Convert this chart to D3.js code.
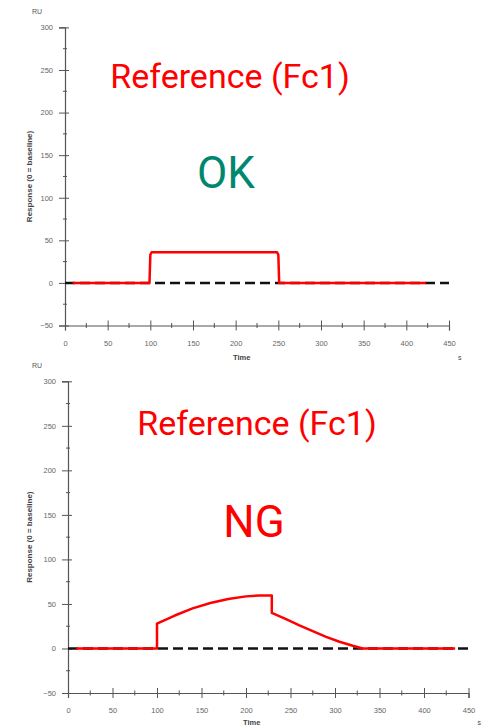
<!DOCTYPE html>
<html>
<head>
<meta charset="utf-8">
<script src="https://cdn.jsdelivr.net/npm/d3@7"></script>
<style>
  body { margin: 0; background: #fff; }
  svg { display: block; }
</style>
</head>
<body>
<svg id="chart" width="487" height="728"></svg>
<script>
// sensorgram data (time in s, response in RU)
let okTime = [9, 99, 100, 101.5, 248.5, 250, 251, 423];
let okResp = [0, 0, 33, 36, 36, 33, 0, 0];

let ngTime = [9, 100, 100, 120, 140, 160, 180, 200, 215, 229, 229, 245, 260, 275, 290, 305, 320, 331, 435];
let ngResp = [0, 0, 28, 37, 45, 51, 55.5, 58.5, 59.5, 59.5, 40, 33, 26, 19.5, 13, 7.5, 3, 0, 0];

let baseTime = [0, 450];
let baseResp = [0, 0];

let yTicks = [-50, 0, 50, 100, 150, 200, 250, 300];
let xTicks = [0, 50, 100, 150, 200, 250, 300, 350, 400, 450];

let svg = d3.select("#chart");

let drawPanel = (cfg) => {
    let x = d3.scaleLinear().domain([0, 450]).range([cfg.x0, cfg.x1]);
    let y = d3.scaleLinear().domain([-50, 300]).range([cfg.yBottom, cfg.yTop]);
    let g = svg.append("g");
    let axisColor = "#555";
    let small = "Liberation Sans, Arial, sans-serif";

    // y axis
    let ya = g.append("g")
        .attr("transform", "translate(" + cfg.x0 + ",0)")
        .call(d3.axisLeft(y).tickValues(yTicks).tickSize(6).tickPadding(6));
    ya.select(".domain").attr("stroke", axisColor).attr("stroke-width", 1.2);
    ya.selectAll(".tick line").attr("stroke", axisColor).attr("x2", -6).attr("x1", 4);
    ya.selectAll(".tick text").attr("fill", "#666").attr("font-size", 7.5)
        .attr("font-family", small);
    ya.selectAll(".minor").data(d3.range(-25, 300, 50)).enter().append("line")
        .attr("stroke", axisColor)
        .attr("x1", -2).attr("x2", 2)
        .attr("y1", d => y(d)).attr("y2", d => y(d));

    // x axis at -50
    let xa = g.append("g")
        .attr("transform", "translate(0," + y(-50) + ")")
        .call(d3.axisBottom(x).tickValues(xTicks).tickSize(5).tickPadding(10));
    xa.select(".domain").attr("stroke", axisColor).attr("stroke-width", 1.2);
    xa.selectAll(".tick line").attr("stroke", axisColor).attr("y1", -5).attr("y2", 5);
    xa.selectAll(".tick text").attr("fill", "#666").attr("font-size", 7.5)
        .attr("font-family", small);
    xa.selectAll(".minor").data(d3.range(25, 450, 50)).enter().append("line")
        .attr("stroke", axisColor)
        .attr("x1", d => x(d)).attr("x2", d => x(d))
        .attr("y1", -2.5).attr("y2", 2.5);

    // axis labels
    g.append("text").attr("x", 37).attr("y", cfg.yTop - 13)
        .attr("text-anchor", "middle").attr("font-size", 7).attr("fill", "#555")
        .attr("font-family", small).text("RU");
    g.append("text").attr("x", cfg.timeX).attr("y", y(-50) + cfg.labelGap)
        .attr("font-size", 7.5).attr("font-weight", "bold").attr("fill", "#444")
        .attr("font-family", small).text("Time");
    g.append("text").attr("x", cfg.x1 + 9).attr("y", y(-50) + cfg.labelGap)
        .attr("font-size", 7).attr("fill", "#444")
        .attr("font-family", small).text("s");
    g.append("text")
        .attr("transform", "translate(32," + y(125) + ") rotate(-90)")
        .attr("text-anchor", "middle").attr("font-size", 8).attr("font-weight", "bold")
        .attr("fill", "#444").attr("font-family", small).text("Response (0 = baseline)");

    // baseline dashed
    let line = d3.line().x(d => x(d[0])).y(d => y(d[1]));
    g.append("path")
        .datum(d3.zip(baseTime, baseResp))
        .attr("fill", "none").attr("stroke", "#111").attr("stroke-width", 2.5)
        .attr("stroke-dasharray", "10,5")
        .attr("d", line);

    // reference curve
    g.append("path")
        .datum(d3.zip(cfg.time, cfg.resp))
        .attr("fill", "none").attr("stroke", "#ff0000").attr("stroke-width", 2.5)
        .attr("stroke-linejoin", "round")
        .attr("d", line);

    // annotations
    g.append("text").attr("x", cfg.titleX).attr("y", cfg.titleY)
        .attr("text-anchor", "middle").attr("font-family", "Roboto, sans-serif")
        .attr("font-size", 34).attr("fill", "#ff0000").text("Reference (Fc1)");
    g.append("text").attr("x", cfg.statusX).attr("y", cfg.statusY)
        .attr("text-anchor", "middle").attr("font-family", "Roboto, sans-serif")
        .attr("font-size", 44).attr("fill", cfg.statusColor).text(cfg.status);
};

drawPanel({
    x0: 65, x1: 449, yTop: 27.4, yBottom: 325.5,
    time: okTime, resp: okResp,
    titleX: 230, titleY: 88, statusX: 226, statusY: 188,
    status: "OK", statusColor: "#00876f", timeX: 233, labelGap: 34.5
});

drawPanel({
    x0: 68, x1: 468.5, yTop: 381.3, yBottom: 693,
    time: ngTime, resp: ngResp,
    titleX: 257, titleY: 435, statusX: 254, statusY: 537,
    status: "NG", statusColor: "#ff0000", timeX: 243, labelGap: 32
});
</script>
</body>
</html>
